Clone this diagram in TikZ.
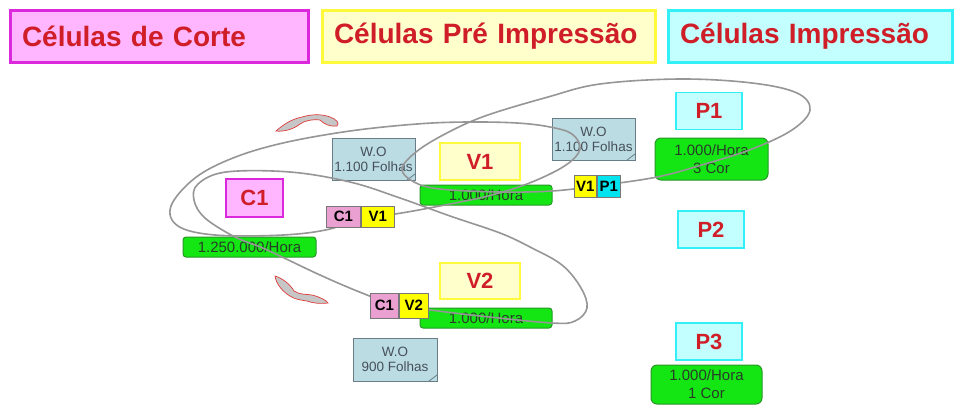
\documentclass[tikz,border=0pt]{standalone}
\usepackage{fontspec}
\setmainfont{Liberation Sans}
\definecolor{redtxt}{RGB}{208,30,40}
\definecolor{magbord}{RGB}{220,40,220}
\definecolor{magfill}{RGB}{255,182,255}
\definecolor{yelbord}{RGB}{255,250,60}
\definecolor{yelfill}{RGB}{255,255,204}
\definecolor{cyanbord}{RGB}{50,240,245}
\definecolor{cyanfill}{RGB}{195,255,255}
\definecolor{greenfill}{RGB}{20,230,20}
\definecolor{greenbord}{RGB}{40,150,40}
\definecolor{ratetxt}{RGB}{40,60,40}
\definecolor{wofill}{RGB}{188,220,228}
\definecolor{wobord}{RGB}{105,125,135}
\definecolor{wotxt}{RGB}{70,80,90}
\definecolor{tagpink}{RGB}{235,160,210}
\definecolor{tagyel}{RGB}{255,255,0}
\definecolor{tagcyan}{RGB}{0,228,240}
\definecolor{tagbord}{RGB}{120,120,120}
\definecolor{loopgray}{RGB}{150,150,150}
\definecolor{arrowred}{RGB}{225,60,60}
\tikzset{
  hdr/.style={draw, line width=3pt, minimum height=52pt, inner xsep=12pt,
    font=\fontsize{28}{30}\selectfont\bfseries, text=redtxt, align=left},
  cellbox/.style={draw, line width=1.8pt, minimum height=37pt, minimum width=66pt,
    font=\fontsize{22}{24}\selectfont\bfseries, text=redtxt},
  cutcell/.style={cellbox, draw=magbord, fill=magfill},
  precell/.style={cellbox, draw=yelbord, fill=yelfill},
  impcell/.style={cellbox, draw=cyanbord, fill=cyanfill},
  rate/.style={draw=greenbord, fill=greenfill, rounded corners=3pt, line width=1pt,
    font=\fontsize{15}{18}\selectfont, text=ratetxt, align=center, inner sep=0pt},
  wo/.style={draw=wobord, fill=wofill, line width=1pt, inner sep=0pt,
    font=\fontsize{13.5}{15}\selectfont, text=wotxt, align=center,
    path picture={\draw[wobord, line width=0.8pt]
      ([xshift=-8pt]path picture bounding box.south east) --
      ([yshift=6pt]path picture bounding box.south east);}},
  tag/.style={draw=tagbord, line width=0.8pt, inner sep=0pt,
    font=\fontsize{15}{16}\selectfont\bfseries, text=black},
  cycleloop/.style={draw=loopgray, line width=1.6pt},
  turn/.style={draw=arrowred, fill=gray!45, line width=0.7pt}
}
\begin{document}
\begin{tikzpicture}[x=1pt, y=-1pt]
\useasboundingbox[fill=white] (0,0) rectangle (959,405);

% column headers
\node[hdr, draw=magbord, fill=magfill, text width=274pt] (hcut) at (159,36) {Células de Corte};
\node[hdr, draw=yelbord, fill=yelfill, text width=309pt] (hpre) at (488.5,36) {Células Pré Impressão};
\node[hdr, draw=cyanbord, fill=cyanfill, text width=260pt] (himp) at (810,36) {Células Impressão};

% cells and their rates
\node[cutcell, minimum width=57pt, minimum height=38pt] (c1) at (254.5,198) {C1};
\node[rate, minimum width=133pt, minimum height=20pt] (c1g) at (249.5,247) {1.250.000/Hora};

\node[precell, minimum width=80pt] (v1) at (480,161.5) {V1};
\node[rate, minimum width=132pt, minimum height=20pt] (v1g) at (486,195) {1.000/Hora};

\node[precell, minimum width=80pt, minimum height=36pt] (v2) at (480,281) {V2};
\node[rate, minimum width=132pt, minimum height=20pt] (v2g) at (486,318) {1.000/Hora};

\node[impcell] (p1) at (709,111) {P1};
\node[rate, rounded corners=6pt, minimum width=113pt, minimum height=42pt] (p1g) at (711.5,159) {1.000/Hora\\3 Cor};
\node[impcell] (p2) at (711,229.5) {P2};
\node[impcell] (p3) at (709,341.5) {P3};
\node[rate, rounded corners=6pt, minimum width=111pt, minimum height=39pt] (p3g) at (706.5,384.5) {1.000/Hora\\1 Cor};

% work orders
\node[wo, minimum width=83pt, minimum height=42pt] (wo1) at (373.5,159) {W.O\\1.100 Folhas};
\node[wo, minimum width=83pt, minimum height=42pt] (wo2) at (593.5,139) {W.O\\1.100 Folhas};
\node[wo, minimum width=84pt, minimum height=43pt] (wo3) at (395,359.5) {W.O\\900 Folhas};

% turn indicators
\draw[turn] (276,131) .. controls (284,124) and (292,119) .. (302,117)
  .. controls (312,114) and (322,114) .. (330,117)
  .. controls (336,119) and (340,123) .. (337,126)
  .. controls (330,127) and (324,124) .. (320,120)
  .. controls (312,119) and (304,121) .. (300,124)
  .. controls (294,129) and (284,132) .. cycle;
\draw[turn] (275,276) .. controls (282,278) and (290,284) .. (294,291)
  .. controls (300,295) and (306,294) .. (312,295)
  .. controls (320,297) and (326,300) .. (328,303)
  .. controls (320,304) and (312,303) .. (307,301)
  .. controls (300,300) and (294,299) .. (290,296)
  .. controls (283,292) and (276,284) .. cycle;

% transfer tags (drawn after the loops below so they sit on top)
\coordinate (c1v1pos) at (326,216.5);
\coordinate (v1p1pos) at (574,186);
\coordinate (c1v2pos) at (370,305.5);

% production loops
\draw[cycleloop] plot[smooth cycle, tension=0.6] coordinates {
  (596,186) (657,177) (705,164) (752,149) (792,130) (810,110) (797,93)
  (752,83) (680,79) (600,84) (548,97) (485,116) (445,134) (416,152)
  (402,169) (414,182) (440,189) (500,192) (552,191)};
\draw[cycleloop] plot[smooth cycle, tension=0.6] coordinates {
  (360,217) (395,214) (450,204) (492,195) (532,182) (566,165) (580,149)
  (572,134) (550,127) (517,123) (467,122) (417,124) (350,131) (283,143)
  (233,158) (195,178) (171,206) (178,226) (215,235) (283,235) (330,229)};
\draw[cycleloop] plot[smooth cycle, tension=0.6] coordinates {
  (398,306) (430,310) (480,316) (552,323) (575,321) (587,308) (581,288)
  (562,265) (530,247) (500,233) (450,216) (400,198) (350,182) (290,172)
  (226,172) (198,184) (194,200) (205,218) (235,237) (265,249) (320,275)
  (362,293)};

\node[tag, fill=tagpink, anchor=west, minimum width=34pt, minimum height=21pt] (c1v1a) at (c1v1pos) {C1};
\node[tag, fill=tagyel, anchor=west, minimum width=33pt, minimum height=21pt] (c1v1b) at (c1v1a.east) {V1};
\node[tag, fill=tagyel, anchor=west, minimum width=22pt, minimum height=22pt] (v1p1a) at (v1p1pos) {V1};
\node[tag, fill=tagcyan, anchor=west, minimum width=23pt, minimum height=22pt] (v1p1b) at (v1p1a.east) {P1};
\node[tag, fill=tagpink, anchor=west, minimum width=28pt, minimum height=25pt] (c1v2a) at (c1v2pos) {C1};
\node[tag, fill=tagyel, anchor=west, minimum width=29pt, minimum height=25pt] (c1v2b) at (c1v2a.east) {V2};
\end{tikzpicture}
\end{document}
